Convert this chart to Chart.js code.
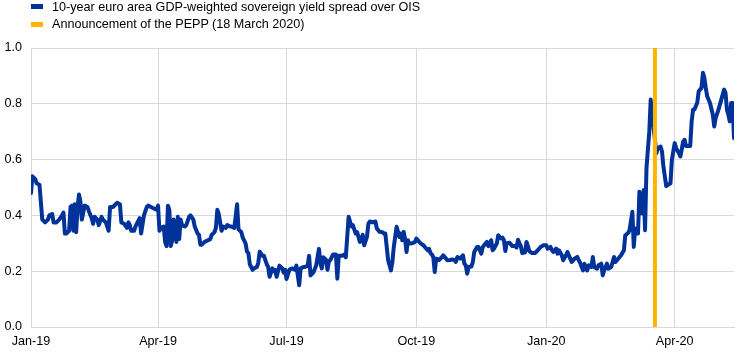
<!DOCTYPE html>
<html>
<head>
<meta charset="utf-8">
<script src="https://cdn.jsdelivr.net/npm/chart.js@4/dist/chart.umd.min.js"></script>
<style>
  html, body { margin: 0; padding: 0; background: #fff; }
  #wrap { position: relative; width: 744px; height: 354px; }
  #c { position: absolute; left: 0; top: 0; }
  .lg { position: absolute; font-family: "Liberation Sans", Arial, sans-serif; font-size: 12.6px; line-height: 15px; color: #000; white-space: nowrap; }
  .mk { position: absolute; width: 12px; height: 5px; }
</style>
</head>
<body>
<div id="wrap">
  <canvas id="c" width="744" height="354"></canvas>
  <div class="mk" style="left:31px;top:4px;background:#003299"></div>
  <div class="lg" id="lg1" style="left:52px;top:0px"></div>
  <div class="mk" style="left:31px;top:22px;background:#FFB400"></div>
  <div class="lg" id="lg2" style="left:52px;top:17px"></div>
</div>
<script>
// Series names
const seriesName = "10-year euro area GDP-weighted sovereign yield spread over OIS";
const eventName = "Announcement of the PEPP (18 March 2020)";

// x = days since 1 January 2019 (observation dates)
const days = [
  0,1,3,4,6,8,10,12,13,15,
  16,18,20,22,23,24,25,27,28,29,
  30,31,32,33,34,35,36,38,40,41,
  43,44,45,47,48,50,51,53,55,56,
  58,60,61,63,64,66,68,69,70,71,
  73,74,75,77,78,80,82,83,85,87,
  89,90,91,92,94,95,96,97,98,99,
  100,101,103,104,105,106,107,109,110,112,
  113,115,116,118,119,120,121,123,125,127,
  128,130,131,132,133,135,136,138,139,141,
  142,144,146,147,149,150,152,153,154,155,
  157,158,160,161,162,164,165,166,167,168,
  169,171,172,173,174,176,178,179,180,181,
  183,185,187,188,190,191,193,194,196,197,
  198,200,202,204,205,206,207,209,210,211,
  212,214,216,217,218,220,222,223,225,227,
  228,230,231,233,235,236,238,239,240,242,
  244,245,247,249,250,251,252,253,255,256,
  257,258,259,261,262,263,264,265,266,267,
  268,270,272,273,275,276,278,279,281,282,
  283,284,285,286,287,289,291,292,294,295,
  297,298,300,301,302,304,306,307,308,309,
  310,312,313,314,316,317,318,319,320,322,
  323,324,326,327,328,330,331,333,334,335,
  336,337,339,341,343,344,345,346,347,348,
  350,351,352,353,355,357,359,361,363,365,
  366,368,369,370,372,373,374,376,377,379,
  380,382,383,385,387,388,389,391,392,394,
  395,397,398,399,401,402,404,405,406,408,
  409,411,413,414,416,418,420,421,423,424,
  426,427,428,430,431,433,434,435,436,438,
  439,443,444,446,447,448,450,451,453,454,
  456,457,459,460,462,463,464,467,468,469,
  470,472,473,475,476,477,478,479,481,483,
  484,485,487,489,491,492,493,494,495,496,
  497,498
];

// spread, percentage points
const spread = [
  0.48,0.54,0.53,0.515,0.51,0.385,0.375,0.385,0.40,0.405,
  0.375,0.375,0.385,0.40,0.41,0.335,0.335,0.345,0.43,0.435,
  0.345,0.44,0.34,0.43,0.475,0.45,0.385,0.435,0.43,0.415,
  0.39,0.37,0.395,0.385,0.365,0.395,0.385,0.375,0.345,0.43,
  0.43,0.44,0.445,0.44,0.375,0.37,0.355,0.375,0.365,0.345,
  0.345,0.36,0.37,0.39,0.335,0.40,0.43,0.435,0.43,0.425,
  0.42,0.435,0.345,0.355,0.36,0.305,0.29,0.435,0.42,0.29,
  0.31,0.385,0.305,0.395,0.315,0.385,0.365,0.36,0.365,0.395,
  0.40,0.385,0.36,0.335,0.33,0.295,0.295,0.305,0.31,0.315,
  0.33,0.34,0.355,0.42,0.405,0.345,0.36,0.355,0.365,0.36,
  0.36,0.355,0.44,0.35,0.34,0.32,0.30,0.27,0.265,0.225,
  0.205,0.21,0.215,0.23,0.27,0.255,0.255,0.24,0.225,0.215,
  0.18,0.21,0.20,0.205,0.18,0.22,0.21,0.195,0.205,0.172,
  0.205,0.21,0.205,0.22,0.15,0.21,0.215,0.215,0.22,0.255,
  0.185,0.195,0.22,0.28,0.23,0.21,0.25,0.24,0.205,0.235,
  0.24,0.26,0.26,0.173,0.255,0.255,0.26,0.25,0.395,0.36,
  0.365,0.335,0.34,0.305,0.33,0.293,0.323,0.37,0.378,0.375,
  0.378,0.353,0.341,0.34,0.335,0.335,0.287,0.239,0.203,0.233,
  0.287,0.323,0.359,0.323,0.335,0.311,0.341,0.315,0.269,0.311,
  0.299,0.30,0.305,0.317,0.305,0.30,0.293,0.287,0.275,0.28,
  0.265,0.26,0.25,0.197,0.245,0.24,0.25,0.257,0.245,0.239,
  0.24,0.242,0.24,0.233,0.251,0.245,0.257,0.227,0.221,0.191,
  0.215,0.217,0.233,0.269,0.287,0.287,0.275,0.263,0.287,0.299,
  0.305,0.29,0.311,0.275,0.281,0.30,0.329,0.317,0.32,0.311,
  0.272,0.30,0.302,0.29,0.29,0.285,0.313,0.30,0.29,0.265,
  0.268,0.305,0.29,0.272,0.265,0.265,0.275,0.287,0.293,0.293,
  0.281,0.287,0.275,0.269,0.281,0.263,0.275,0.257,0.239,0.257,
  0.269,0.245,0.233,0.245,0.251,0.239,0.23,0.203,0.227,0.203,
  0.221,0.215,0.251,0.215,0.209,0.221,0.227,0.185,0.203,0.227,
  0.209,0.215,0.251,0.233,0.245,0.257,0.275,0.329,0.337,0.347,
  0.413,0.287,0.353,0.335,0.485,0.407,0.491,0.347,0.57,0.70,
  0.815,0.623,0.641,0.647,0.629,0.575,0.505,0.509,0.515,0.599,
  0.659,0.641,0.623,0.611,0.665,0.671,0.649,0.649,0.737,0.779,
  0.78,0.805,0.845,0.857,0.911,0.893,0.857,0.827,0.803,0.761,
  0.719,0.749,0.779,0.815,0.851,0.839,0.779,0.761,0.737,0.803,
  0.803,0.677
];

// PEPP announcement: 18 March 2020 = day 442
const peppDay = 442;

// x-axis ticks (days since 1 Jan 2019) and labels
const tickDays = [0, 90, 181, 273, 365, 456];
const tickLabels = ["Jan-19", "Apr-19", "Jul-19", "Oct-19", "Jan-20", "Apr-20"];

document.getElementById('lg1').textContent = seriesName;
document.getElementById('lg2').textContent = eventName;

const FONT = "'Liberation Sans', Arial, sans-serif";
const GRID = '#d9d9d9';

new Chart(document.getElementById('c'), {
  type: 'line',
  data: {
    datasets: [
      {
        label: eventName,
        data: [{x: peppDay, y: 0}, {x: peppDay, y: 1}],
        borderColor: '#FFB400',
        borderWidth: 4,
        pointRadius: 0,
        order: 0
      },
      {
        label: seriesName,
        data: days.map((d, i) => ({x: d, y: spread[i]})),
        borderColor: '#003299',
        borderWidth: 4,
        borderJoinStyle: 'round',
        borderCapStyle: 'round',
        pointRadius: 0,
        tension: 0,
        order: 1
      }
    ]
  },
  options: {
    responsive: false,
    animation: false,
    devicePixelRatio: 1,
    layout: { padding: { left: 0, right: 10, top: 48, bottom: 0 } },
    plugins: { legend: { display: false }, tooltip: { enabled: false } },
    scales: {
      x: {
        type: 'linear',
        min: 0,
        max: 498,
        afterBuildTicks: axis => { axis.ticks = tickDays.map(v => ({ value: v })); },
        afterFit: axis => { axis.height = 27; },
        ticks: {
          autoSkip: false,
          maxRotation: 0,
          padding: 7,
          color: '#000',
          font: { family: FONT, size: 12.6 },
          callback: v => { const i = tickDays.indexOf(v); return i >= 0 ? tickLabels[i] : ''; }
        },
        grid: { color: GRID, lineWidth: 1, drawTicks: false },
        border: { color: GRID, width: 1 }
      },
      y: {
        min: 0,
        max: 1,
        afterFit: axis => { axis.width = 31; },
        ticks: {
          stepSize: 0.2,
          padding: 9,
          color: '#000',
          font: { family: FONT, size: 12.6 },
          callback: v => Number(v).toFixed(1)
        },
        grid: { color: GRID, lineWidth: 1, drawTicks: false },
        border: { color: GRID, width: 1 }
      }
    }
  }
});
</script>
</body>
</html>
